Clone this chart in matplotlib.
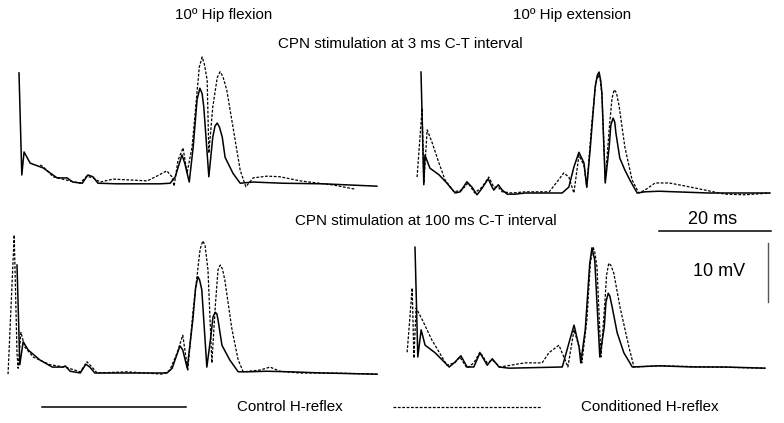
import matplotlib.pyplot as plt

plt.rcParams['font.family'] = ['Liberation Sans', 'DejaVu Sans']

# traces: time in ms after stimulus, amplitude in mV above baseline
# top-left: 10º hip flexion, 3 ms C-T
tl_ctrl_t = [0, 0.5, 0.9, 2.0, 4.3, 6.8, 8.6, 9.6, 11.3, 12.3, 13.2, 14.1, 17.5, 25.2, 27.0, 27.9,
             29.1, 29.6, 30.4, 31.1, 31.8, 32.3, 32.7, 33.0, 33.9, 34.6, 35.0, 35.4, 35.8, 36.3,
             36.8, 38.2, 39.5, 41.8, 47.1, 54.3, 63.9]
tl_ctrl_v = [19.0, 1.7, 5.6, 3.7, 2.9, 1.2, 1.2, 0.5, 0.3, 1.7, 1.4, 0.3, 0.2, 0.2, 0.3, 1.4,
             5.1, 3.7, 0.5, 6.4, 14.5, 16.4, 15.5, 13.2, 1.4, 8.1, 10.0, 10.5, 9.8, 8.1,
             4.7, 2.0, 0.3, 0.5, 0.3, 0.2, -0.2]
tl_cond_t = [3.8, 4.3, 6.1, 8.6, 10.9, 12.1, 13.2, 14.5, 16.8, 22.9, 24.6, 26.4, 27.3, 27.7, 28.4,
             29.3, 30.0, 30.9, 32.2, 32.7, 33.1, 33.6, 33.9, 34.6, 35.4, 35.9, 36.4, 37.1, 38.6,
             39.5, 40.5, 41.8, 44.3, 46.6, 50.2, 56.1, 60.0]
tl_cond_v = [3.4, 3.1, 1.4, 0.8, 0.3, 1.5, 1.2, 0.5, 1.0, 0.7, 1.5, 2.4, 1.4, -0.2, 4.2,
             6.3, 2.0, 6.4, 20.0, 21.7, 20.5, 17.8, 5.4, 13.2, 18.2, 19.2, 18.4, 16.1, 7.6,
             2.5, -0.3, 1.2, 1.5, 1.4, 0.7, 0.0, -0.7]

# top-right: 10º hip extension, 3 ms C-T
tr_ctrl_t = [0, 0.5, 0.7, 1.6, 3.2, 4.6, 6.1, 7.0, 8.2, 9.1, 10.0, 10.9, 12.0, 12.7, 13.0, 13.8,
             14.5, 15.4, 16.8, 18.6, 22.9, 25.2, 26.4, 27.3, 28.2, 29.1, 29.6, 30.2, 31.1, 31.5,
             31.8, 32.1, 32.3, 32.9, 33.6, 33.9, 34.3, 34.6, 34.8, 35.5, 36.4, 37.3, 38.6, 40.0,
             42.5, 45.4, 51.4, 57.3, 62.3]
tr_ctrl_v = [20.5, 1.4, 6.4, 4.2, 3.1, 1.7, 0.0, 0.2, 1.9, 1.0, -0.3, 0.8, 2.4, 1.0, 0.5, 1.4,
             0.5, -0.2, -0.2, 0.0, 0.0, 0.0, 1.0, 4.4, 6.9, 5.1, 1.0, 7.3, 18.0, 20.0,
             20.5, 19.0, 16.9, 1.7, 7.8, 11.5, 12.7, 12.0, 10.2, 5.9, 3.9, 2.2, 0.0, 0.2,
             0.3, 0.2, 0.0, 0.0, 0.0]
tr_cond_t = [-0.7, 0.2, 0.5, 1.1, 2.0, 3.2, 4.3, 5.9, 7.3, 8.4, 9.6, 10.9, 12.1, 13.0, 13.8, 14.5,
             16.3, 18.6, 22.9, 24.3, 25.5, 26.4, 27.3, 28.2, 29.1, 29.6, 30.5, 31.2, 31.6, 32.0,
             32.3, 32.9, 33.6, 34.1, 34.5, 34.9, 35.4, 36.4, 37.7, 38.9, 40.0, 41.8, 44.3, 47.1,
             50.7, 54.3, 57.9, 62.3]
tr_cond_v = [2.7, 14.4, 1.7, 10.7, 8.5, 5.1, 2.2, 0.2, 0.5, 1.7, 0.0, 1.0, 2.7, 1.0, 1.0, 0.2,
             0.0, 0.2, 0.2, 1.9, 3.4, 2.7, 0.0, 6.4, 4.7, 1.0, 11.9, 18.5, 20.0, 19.2,
             16.9, 2.2, 10.7, 16.0, 17.5, 17.0, 14.6, 7.8, 2.2, 0.0, 0.5, 1.7, 1.7, 1.2,
             0.5, -0.2, -0.3, 0.0]

# bottom-left: 10º hip flexion, 100 ms C-T
bl_ctrl_t = [0, 0.5, 1.1, 2.0, 4.1, 6.3, 8.2, 8.6, 9.5, 11.3, 12.3, 13.0, 13.9, 17.9, 26.8, 27.7,
             29.1, 29.6, 30.4, 31.4, 31.9, 32.3, 32.6, 33.0, 33.9, 34.6, 35.0, 35.4, 35.7, 35.9,
             36.6, 38.0, 39.5, 41.1, 44.6, 48.8, 54.6, 64.3]
bl_ctrl_v = [18.3, 1.4, 5.3, 3.9, 2.2, 1.0, 1.0, 1.2, 0.3, 0.0, 1.5, 1.0, 0.0, 0.0, 0.0, 0.8,
             4.6, 3.9, 0.8, 9.0, 14.5, 16.3, 15.8, 14.1, 1.0, 6.1, 9.5, 10.3, 10.0, 9.0,
             4.7, 2.2, 0.2, 0.2, 0.3, 0.2, 0.0, -0.2]
bl_cond_t = [-1.6, -0.5, 0, 0.2, 0.7, 1.4, 2.9, 5.9, 8.6, 11.3, 12.5, 13.4, 14.3, 19.6, 26.1, 27.3,
             28.6, 29.6, 30.5, 31.4, 32.7, 33.2, 33.6, 34.1, 34.8, 35.4, 35.9, 36.3, 36.7, 37.1,
             38.4, 39.5, 40.4, 43.4, 45.2, 46.9, 50.5, 56.4, 64.3]
bl_cond_v = [-0.2, 23.4, 3.4, 0.8, 6.9, 4.4, 2.7, 1.4, 1.0, 0.2, 1.9, 1.0, 0.0, 0.2, -0.2, 0.5,
             3.4, 6.4, 0.5, 10.2, 21.0, 22.4, 21.5, 17.5, 1.7, 11.2, 17.5, 18.3, 17.6, 15.8,
             7.3, 2.2, 0.2, 0.5, 1.0, 0.3, 0.0, 0.0, -0.2]

# bottom-right: 10º hip extension, 100 ms C-T
br_ctrl_t = [0, 0.5, 1.1, 1.8, 3.6, 6.1, 7.1, 8.2, 9.3, 10.5, 11.6, 12.9, 13.8, 15.0, 16.8, 26.3,
             27.5, 28.4, 29.3, 29.6, 30.4, 31.2, 31.6, 32.1, 33.0, 33.8, 34.1, 34.5, 34.8, 35.2,
             36.1, 37.3, 38.8, 43.6, 49.5, 55.4, 62.5]
br_ctrl_v = [20.3, 1.7, 6.3, 3.7, 2.4, 0.0, 0.8, 1.9, 0.0, 0.0, 2.4, 0.3, 1.4, 0.0, -0.2, 0.0,
             4.1, 7.1, 3.4, 0.7, 6.3, 17.5, 20.2, 18.1, 1.7, 6.8, 11.0, 12.5, 12.0, 10.2,
             5.8, 2.4, 0.0, 0.2, 0.0, 0.0, -0.2]
br_cond_t = [-1.4, -0.5, -0.2, 0.2, 1.3, 3.0, 5.7, 7.1, 8.0, 9.3, 10.5, 11.6, 12.9, 13.8, 15.2, 19.6,
             22.7, 23.9, 25.7, 26.8, 27.3, 28.4, 29.3, 29.8, 30.7, 31.3, 31.8, 32.1, 32.5, 33.2,
             33.9, 34.2, 34.6, 35.0, 35.5, 36.6, 38.2, 39.1, 43.6, 62.5]
br_cond_v = [2.5, 13.4, 1.5, 10.0, 8.0, 4.6, 0.3, 0.7, 1.7, -0.2, 0.7, 2.5, 0.7, 1.2, 0.0, 0.7,
             0.7, 2.4, 3.7, 1.2, 0.0, 6.3, 3.4, 0.7, 8.0, 17.5, 20.3, 19.5, 16.9, 1.7,
             10.8, 15.5, 17.6, 17.2, 15.9, 10.2, 3.4, 0.0, 0.2, -0.2]

W, H = 784, 423
PX_MS = 5.6   # pixels per ms
PX_MV = 5.9   # pixels per mV

fig = plt.figure(figsize=(W / 100, H / 100), dpi=100)


def panel(x0, y0):
    # axes covering the whole figure, stimulus/baseline at pixel (x0, y0)
    ax = fig.add_axes([0, 0, 1, 1])
    ax.set_xlim(-x0 / PX_MS, (W - x0) / PX_MS)
    ax.set_ylim((y0 - H) / PX_MV, y0 / PX_MV)
    ax.axis('off')
    ax.patch.set_alpha(0)
    return ax


def draw(ax, ct, cv, dt, dv):
    ax.plot(dt, dv, color='black', lw=0.9, ls=(0, (2.2, 1.3)))
    ax.plot(ct, cv, color='black', lw=1.1, solid_joinstyle='round')


draw(panel(19, 185), tl_ctrl_t, tl_ctrl_v, tl_cond_t, tl_cond_v)
draw(panel(421, 193), tr_ctrl_t, tr_ctrl_v, tr_cond_t, tr_cond_v)
draw(panel(17, 373), bl_ctrl_t, bl_ctrl_v, bl_cond_t, bl_cond_v)
ax_br = panel(415, 367)
draw(ax_br, br_ctrl_t, br_ctrl_v, br_cond_t, br_cond_v)

# overlay axes in pixel units for labels and scale bars
ov = fig.add_axes([0, 0, 1, 1])
ov.set_xlim(0, W)
ov.set_ylim(H, 0)
ov.axis('off')
ov.patch.set_alpha(0)

fs = 10.9
ov.text(224, 15, '10º Hip flexion', ha='center', va='center', fontsize=fs)
ov.text(572, 15, '10º Hip extension', ha='center', va='center', fontsize=fs)
ov.text(400, 44, 'CPN stimulation at 3 ms C-T interval', ha='center', va='center', fontsize=fs)
ov.text(426, 221, 'CPN stimulation at 100 ms C-T interval', ha='center', va='center', fontsize=fs)

# scale bars (20 ms, 10 mV)
ax_br.plot([43.6, 63.6], [23.0, 23.0], color='black', lw=1.1)
ax_br.plot([63.0, 63.0], [21.0, 11.0], color='#555555', lw=1.0)
ov.text(713, 220, '20 ms', ha='center', va='center', fontsize=13)
ov.text(745, 271, '10 mV', ha='right', va='center', fontsize=13)

# legend
ov.plot([42, 186], [407, 407], color='black', lw=1.1)
ov.text(290, 407, 'Control H-reflex', ha='center', va='center', fontsize=fs)
ov.plot([393, 541], [407, 407], color='black', lw=0.9, ls=(0, (2.2, 1.3)))
ov.text(650, 407, 'Conditioned H-reflex', ha='center', va='center', fontsize=fs)

fig.savefig('out.png', dpi=100)
